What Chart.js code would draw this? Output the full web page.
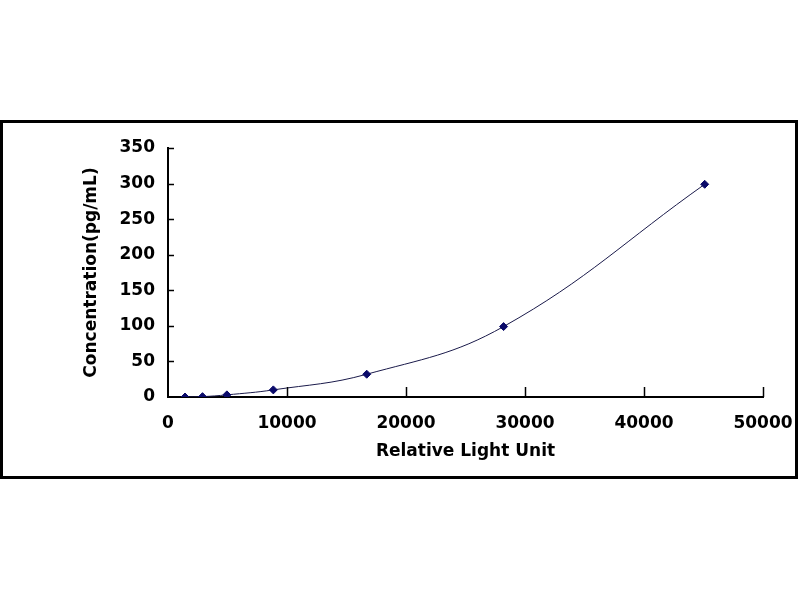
<!DOCTYPE html>
<html>
<head>
<meta charset="utf-8">
<script src="https://cdn.jsdelivr.net/npm/chart.js@4/dist/chart.umd.min.js"></script>
<style>
  html, body { margin: 0; padding: 0; background: #fff; }
  canvas { display: block; }
</style>
</head>
<body>
<canvas id="grafico" width="800" height="600"></canvas>
<script>
// standard curve
const rluValues = [1430, 2900, 4950, 8850, 16700, 28200, 45100];
const concValues = [0, 0.5, 3, 10, 32, 99, 299];
const xTickValues = [0, 10000, 20000, 30000, 40000, 50000];
const yTickValues = [0, 50, 100, 150, 200, 250, 300, 350];

const pontos = rluValues.map((x, i) => ({ x: x, y: concValues[i] }));

const fonte = { family: "DejaVu Sans", size: 17, weight: "bold" };

// outer frame + inward tick marks
const moldura = {
    id: "moldura",
    afterDraw(chart) {
        const ctx = chart.ctx;
        const sx = chart.scales.x;
        const sy = chart.scales.y;
        ctx.save();
        ctx.strokeStyle = "#000";
        ctx.lineWidth = 1.5;
        xTickValues.forEach(v => {
            if (v === sx.min) return;
            const px = Math.round(sx.getPixelForValue(v)) + 0.5;
            ctx.beginPath();
            ctx.moveTo(px, sy.bottom);
            ctx.lineTo(px, sy.bottom - 10);
            ctx.stroke();
        });
        yTickValues.forEach(v => {
            if (v === sy.min) return;
            const py = Math.round(sy.getPixelForValue(v)) + 0.5;
            ctx.beginPath();
            ctx.moveTo(sx.left, py);
            ctx.lineTo(sx.left + 6, py);
            ctx.stroke();
        });
        ctx.lineWidth = 3;
        ctx.strokeRect(1.5, 121.5, 795, 356);
        ctx.restore();
    }
};

new Chart(document.getElementById("grafico").getContext("2d"), {
    type: "line",
    data: {
        datasets: [{
            data: pontos,
            borderColor: "#1a1a4a",
            borderWidth: 1,
            tension: 0.4,
            pointStyle: "rectRot",
            pointRadius: 4,
            pointBackgroundColor: "#0a0a6a",
            pointBorderColor: "#0a0a6a",
            fill: false
        }]
    },
    options: {
        responsive: false,
        animation: false,
        devicePixelRatio: 1,
        layout: { padding: { left: 0, right: 37, top: 148, bottom: 133 } },
        plugins: { legend: { display: false }, tooltip: { enabled: false } },
        scales: {
            x: {
                type: "linear",
                min: 0,
                max: 50000,
                afterBuildTicks: s => { s.ticks = xTickValues.map(v => ({ value: v })); },
                afterFit: s => { s.height = 70; s.paddingLeft = 0; s.paddingRight = 0; },
                grid: { display: true, drawOnChartArea: false, drawTicks: false },
                border: { display: true, color: "#000", width: 2 },
                ticks: { color: "#000", font: fonte, padding: 16, maxRotation: 0, callback: v => String(v) },
                title: { display: true, text: "Relative Light Unit", color: "#000", font: fonte, padding: { top: 0, bottom: 5 } }
            },
            y: {
                min: 0,
                max: 350,
                afterBuildTicks: s => { s.ticks = yTickValues.map(v => ({ value: v })); },
                afterFit: s => { s.width = 168; s.paddingTop = 0; s.paddingBottom = 0; },
                grid: { display: true, drawOnChartArea: false, drawTicks: false },
                border: { display: true, color: "#000", width: 2 },
                ticks: { color: "#000", font: fonte, padding: 13, callback: v => String(v) },
                title: { display: true, text: "Concentration(pg/mL)", color: "#000", font: fonte, padding: { top: 81, bottom: 0 } }
            }
        }
    },
    plugins: [moldura]
});
</script>
</body>
</html>
